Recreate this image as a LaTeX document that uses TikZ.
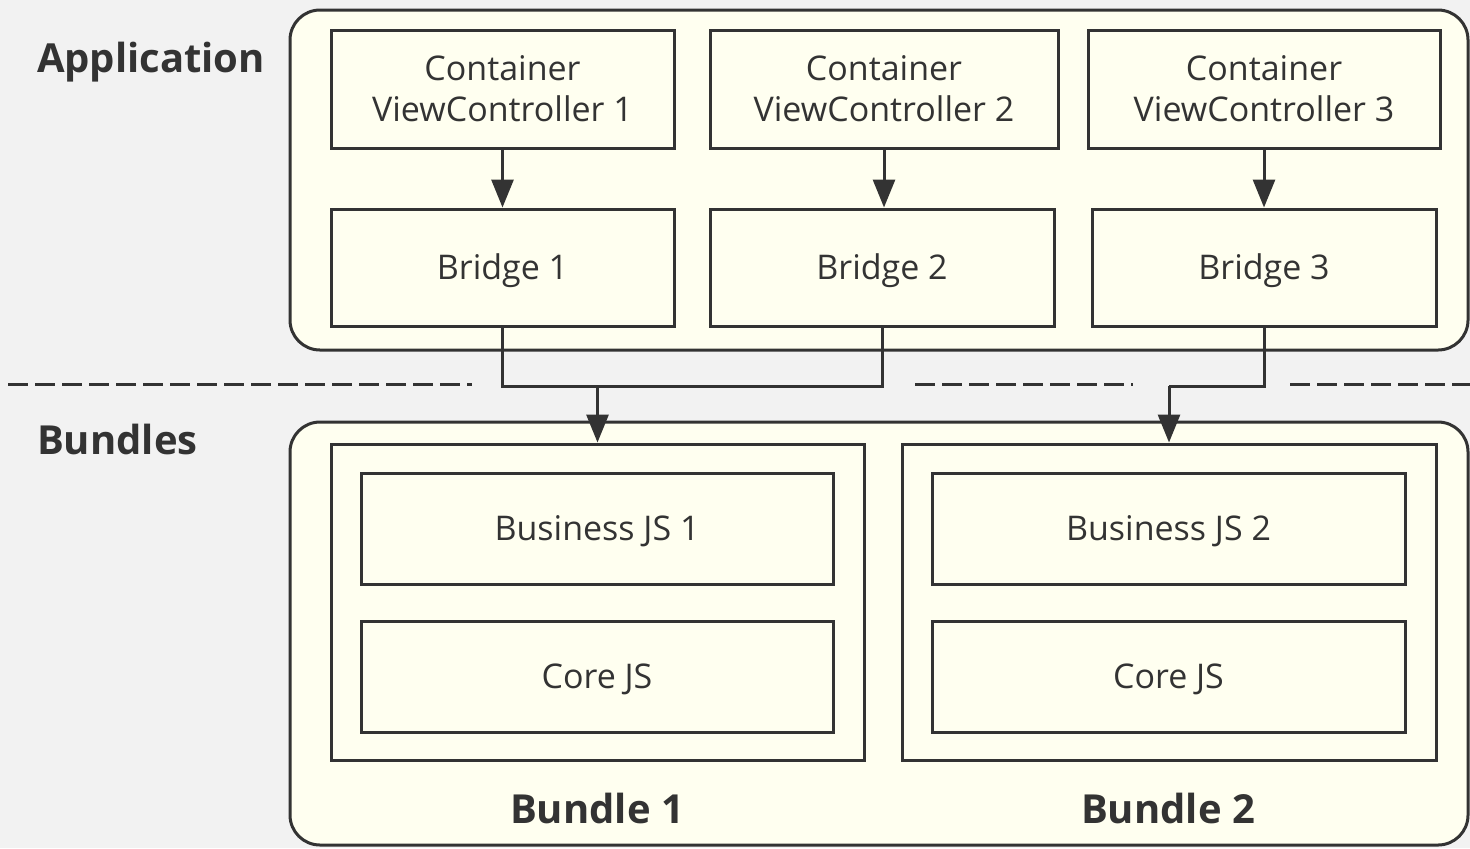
\documentclass[tikz,border=0pt]{standalone}
\usepackage{fontspec}
\setmainfont{Open Sans}
\usetikzlibrary{arrows.meta}
\definecolor{bgc}{HTML}{F2F2F2}
\definecolor{ivory}{HTML}{FFFFF0}
\definecolor{ink}{HTML}{333333}
\tikzset{
  outer/.style={draw=ink, line width=1.5pt, fill=ivory, rounded corners=15pt},
  box/.style={draw=ink, line width=1.5pt, fill=ivory, inner sep=0pt, align=center, text=ink, font=\fontsize{17}{20.5}\selectfont},
  sbox/.style={box, text height=12pt, text depth=0.5pt},
  conn/.style={draw=ink, line width=1.5pt},
  arr/.style={conn, -{Triangle[width=11pt,length=14pt]}},
  sect/.style={text=ink, font=\fontsize{20}{23}\selectfont\bfseries},
  sep/.style={draw=ink, line width=1.5pt, dash pattern=on 10pt off 3.5pt}
}
\begin{document}
\begin{tikzpicture}[x=0.5pt,y=-0.5pt]
\useasboundingbox[fill=bgc] (0,0) rectangle (1470,848);
% outer panels
\draw[outer] (290,10) rectangle (1468,350);
\draw[outer] (290,422) rectangle (1468,845);
% section labels
\node[sect, anchor=west] (lapp) at (30,62) {Application};
\node[sect, anchor=west] (lbun) at (30,439) {Bundles};
% dashed separators
\coordinate (s1a) at (8,384); \coordinate (s1b) at (472,384);
\coordinate (s2a) at (915,384); \coordinate (s2b) at (1133,384);
\coordinate (s3a) at (1290,384); \coordinate (s3b) at (1470,384);
\draw[sep] (s1a) -- (s1b);
\draw[sep] (s2a) -- (s2b);
\draw[sep] (s3a) -- (s3b);
% container view controllers
\node[box, minimum width=171.5pt, minimum height=59pt] (vc1) at (502.5,89) {Container\\ViewController 1};
\node[box, minimum width=174pt, minimum height=59pt] (vc2) at (884,89) {Container\\ViewController 2};
\node[box, minimum width=176pt, minimum height=59pt] (vc3) at (1264,89) {Container\\ViewController 3};
% bridges
\node[sbox, minimum width=171.5pt, minimum height=58.5pt] (br1) at (502.5,267.5) {Bridge 1};
\node[sbox, minimum width=172pt, minimum height=58.5pt] (br2) at (882,267.5) {Bridge 2};
\node[sbox, minimum width=172pt, minimum height=58.5pt] (br3) at (1264,267.5) {Bridge 3};
\draw[arr] (vc1.south) -- (vc1.south |- br1.north);
\draw[arr] (vc2.south) -- (vc2.south |- br2.north);
\draw[arr] (vc3.south) -- (vc3.south |- br3.north);
% bundles
\node[box, minimum width=266.5pt, minimum height=158pt] (bun1) at (597.5,602) {};
\node[box, minimum width=267pt, minimum height=158pt] (bun2) at (1169,602) {};
\node[sbox, minimum width=236pt, minimum height=55.5pt] (bjs1) at (597,528.5) {Business JS 1};
\node[sbox, minimum width=236pt, minimum height=55.5pt] (cjs1) at (597,676.5) {Core JS};
\node[sbox, minimum width=236.5pt, minimum height=55.5pt] (bjs2) at (1168.5,528.5) {Business JS 2};
\node[sbox, minimum width=236.5pt, minimum height=55.5pt] (cjs2) at (1168.5,676.5) {Core JS};
\node[sect] (t1) at (597,808) {Bundle 1};
\node[sect] (t2) at (1168,808) {Bundle 2};
% connectors to bundles
\coordinate (j1) at (bun1.north |- 0,386);
\coordinate (j2) at (bun2.north |- 0,386);
\draw[conn] (br1.south) |- (j1);
\draw[conn] (br2.south) |- (j1);
\draw[arr] (j1) -- (bun1.north);
\draw[conn] (br3.south) |- (j2);
\draw[arr] (j2) -- (bun2.north);
\end{tikzpicture}
\end{document}
